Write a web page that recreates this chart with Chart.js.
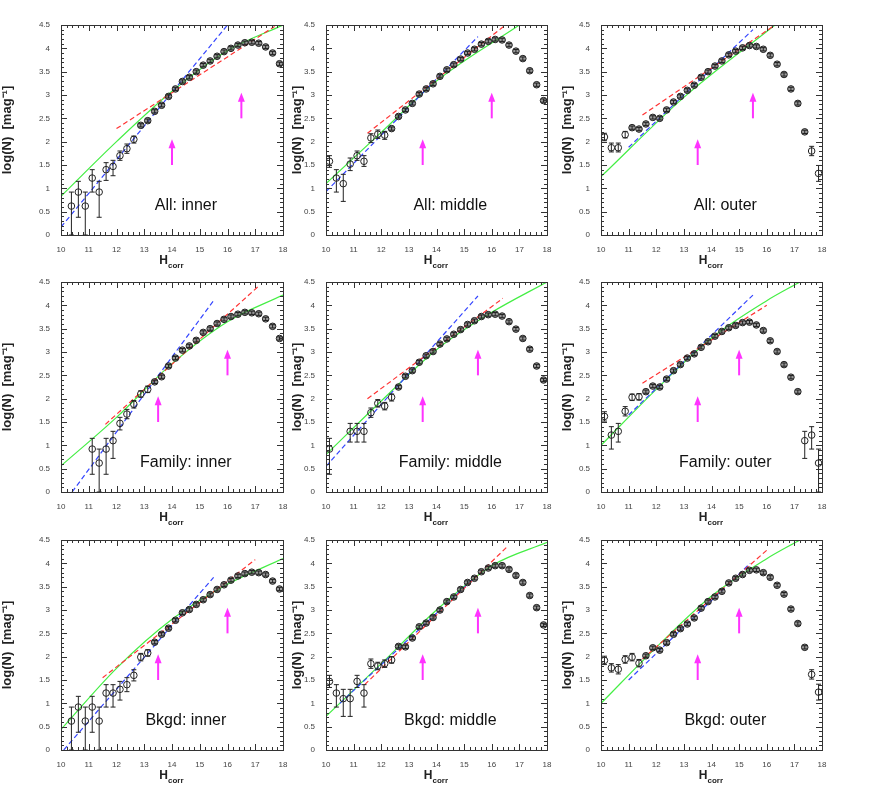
<!DOCTYPE html>
<html>
<head>
<meta charset="utf-8">
<script src="https://cdn.jsdelivr.net/npm/chart.js@4"></script>
<style>
  body { margin: 0; background: #fff; }
  .cell { position: absolute; }
</style>
</head>
<body>
<script>
// H bins (centres)
const hBins = [10.125, 10.375, 10.625, 10.875, 11.125, 11.375, 11.625, 11.875,
  12.125, 12.375, 12.625, 12.875, 13.125, 13.375, 13.625, 13.875,
  14.125, 14.375, 14.625, 14.875, 15.125, 15.375, 15.625, 15.875,
  16.125, 16.375, 16.625, 16.875, 17.125, 17.375, 17.625, 17.875];

const panelLabels = ["All: inner", "All: middle", "All: outer",
  "Family: inner", "Family: middle", "Family: outer",
  "Bkgd: inner", "Bkgd: middle", "Bkgd: outer"];

// log(N) per panel (null = no point)
const allInner = [null, 0.62, 0.92, 0.62, 1.22, 0.92, 1.40, 1.47, 1.70, 1.85, 2.05, 2.35, 2.45, 2.65, 2.78, 2.97,
  3.13, 3.29, 3.38, 3.50, 3.64, 3.73, 3.83, 3.93, 4.00, 4.07, 4.12, 4.13, 4.11, 4.03, 3.90, 3.67];
const allMiddle = [1.58, 1.22, 1.10, 1.52, 1.70, 1.58, 2.08, 2.16, 2.14, 2.28, 2.54, 2.68, 2.82, 3.02, 3.13, 3.24,
  3.40, 3.54, 3.65, 3.77, 3.90, 3.98, 4.09, 4.15, 4.19, 4.18, 4.07, 3.94, 3.78, 3.52, 3.22, 2.88];
const allOuter = [2.10, 1.87, 1.87, 2.15, 2.30, 2.27, 2.38, 2.52, 2.50, 2.68, 2.85, 2.97, 3.10, 3.21, 3.38, 3.50,
  3.62, 3.73, 3.86, 3.94, 4.01, 4.06, 4.04, 3.98, 3.85, 3.66, 3.44, 3.13, 2.82, 2.21, 1.80, 1.32];
const famInner = [null, null, null, null, 0.92, 0.62, 0.92, 1.10, 1.47, 1.67, 1.88, 2.10, 2.20, 2.36, 2.47, 2.70,
  2.87, 3.04, 3.13, 3.25, 3.42, 3.50, 3.61, 3.70, 3.76, 3.81, 3.85, 3.84, 3.82, 3.71, 3.55, 3.29];
const famMiddle = [0.92, null, null, 1.30, 1.30, 1.30, 1.70, 1.90, 1.84, 2.03, 2.25, 2.48, 2.60, 2.78, 2.92, 3.01,
  3.17, 3.28, 3.38, 3.48, 3.59, 3.67, 3.76, 3.80, 3.81, 3.77, 3.65, 3.49, 3.29, 3.06, 2.70, 2.40];
const famOuter = [1.62, 1.22, 1.30, 1.73, 2.03, 2.04, 2.15, 2.27, 2.25, 2.42, 2.60, 2.73, 2.87, 2.96, 3.10, 3.22,
  3.34, 3.44, 3.52, 3.57, 3.63, 3.64, 3.58, 3.46, 3.24, 3.01, 2.73, 2.46, 2.15, 1.10, 1.22, 0.62];
const bkgInner = [null, 0.62, 0.92, 0.62, 0.92, 0.62, 1.22, 1.22, 1.30, 1.40, 1.60, 1.99, 2.08, 2.31, 2.48, 2.61,
  2.78, 2.94, 3.01, 3.12, 3.22, 3.33, 3.44, 3.54, 3.64, 3.73, 3.78, 3.81, 3.80, 3.76, 3.62, 3.45];
const bkgMiddle = [1.47, 1.22, 1.10, 1.10, 1.47, 1.22, 1.85, 1.80, 1.85, 1.93, 2.22, 2.21, 2.40, 2.64, 2.72, 2.84,
  3.00, 3.18, 3.28, 3.44, 3.59, 3.68, 3.82, 3.90, 3.95, 3.95, 3.87, 3.74, 3.59, 3.31, 3.05, 2.68];
const bkgOuter = [1.92, 1.76, 1.73, 1.94, 1.99, 1.86, 2.02, 2.19, 2.14, 2.30, 2.48, 2.60, 2.70, 2.83, 3.04, 3.18,
  3.28, 3.40, 3.58, 3.68, 3.76, 3.85, 3.86, 3.80, 3.70, 3.53, 3.34, 3.02, 2.71, 2.20, 1.62, 1.24];

// error bars: bin index -> [low, high]
const allInnerErr = {1: [0, 0.92], 2: [0.38, 1.15], 3: [0, 0.92], 4: [0.92, 1.40], 5: [0.38, 1.15], 6: [1.17, 1.55], 7: [1.27, 1.60], 8: [1.60, 1.80], 9: [1.75, 1.95], 10: [1.97, 2.12]};
const allMiddleErr = {0: [1.45, 1.70], 1: [0.92, 1.40], 2: [0.72, 1.30], 3: [1.38, 1.65], 4: [1.60, 1.80], 5: [1.47, 1.70], 6: [1.98, 2.17], 7: [2.07, 2.25], 8: [2.05, 2.22]};
const allOuterErr = {0: [2.02, 2.18], 1: [1.78, 1.97], 2: [1.78, 1.97], 3: [2.08, 2.22], 30: [1.70, 1.90], 31: [1.15, 1.49]};
const famInnerErr = {4: [0.38, 1.15], 5: [0, 0.92], 6: [0.38, 1.15], 7: [0.72, 1.30], 8: [1.33, 1.60], 9: [1.57, 1.77], 10: [1.80, 1.96], 11: [2.03, 2.17], 12: [2.13, 2.27]};
const famMiddleErr = {0: [0.38, 1.15], 3: [1.07, 1.47], 4: [1.07, 1.47], 5: [1.07, 1.47], 6: [1.60, 1.80], 7: [1.82, 1.98], 8: [1.76, 1.92], 9: [1.95, 2.10]};
const famOuterErr = {0: [1.52, 1.72], 1: [0.92, 1.40], 2: [1.07, 1.47], 3: [1.63, 1.83], 4: [1.96, 2.10], 5: [1.97, 2.11], 29: [0.72, 1.30], 30: [0.92, 1.40], 31: [0, 0.92]};
const bkgInnerErr = {1: [0, 0.92], 2: [0.38, 1.15], 3: [0, 0.92], 4: [0.38, 1.15], 5: [0, 0.92], 6: [0.92, 1.40], 7: [0.92, 1.40], 8: [1.07, 1.47], 9: [1.25, 1.55], 10: [1.48, 1.72], 11: [1.91, 2.07], 12: [2.01, 2.15]};
const bkgMiddleErr = {0: [1.34, 1.60], 1: [0.92, 1.40], 2: [0.72, 1.30], 3: [0.72, 1.30], 4: [1.34, 1.60], 5: [0.92, 1.40], 6: [1.75, 1.95], 7: [1.72, 1.88], 8: [1.77, 1.93], 9: [1.86, 2.00]};
const bkgOuterErr = {0: [1.83, 2.01], 1: [1.67, 1.85], 2: [1.63, 1.83], 3: [1.86, 2.02], 4: [1.91, 2.07], 5: [1.78, 1.94], 30: [1.52, 1.72], 31: [1.07, 1.41]};

// fit lines per panel: green (curved), blue dashed, red dashed as [x, y] nodes
const greenFits = [
  [[10, 0.83], [12, 2.0], [14, 3.08], [16, 3.95], [18, 4.5]],
  [[10, 1.1], [12, 2.2], [14, 3.3], [17, 4.5]],
  [[10, 1.25], [13, 2.95], [16.3, 4.5]],
  [[10, 0.56], [12, 1.6], [14, 2.75], [16, 3.65], [18, 4.22]],
  [[10, 0.8], [12, 1.95], [14, 3.05], [16, 3.85], [18, 4.5]],
  [[10, 1.0], [12, 2.2], [14, 3.3], [16, 4.1], [17.2, 4.5]],
  [[10, 0.44], [12, 1.75], [14, 2.8], [16, 3.55], [18, 4.1]],
  [[10, 0.72], [12, 1.85], [14, 3.0], [16, 3.95], [18, 4.45]],
  [[10, 1.0], [12, 2.2], [14, 3.3], [16, 4.1], [17.2, 4.5]]
];
const blueFits = [
  [[10, 0.17], [16, 4.5]], [[10, 0.93], [15.5, 4.25]], [[11, 1.88], [15.5, 4.4]],
  [[10.4, 0], [15.5, 4.1]], [[10, 0.55], [15.5, 4.2]], [[11, 1.65], [15.5, 4.22]],
  [[10.1, 0], [15.5, 3.7]], [[10.5, 1.0], [15.3, 3.65]], [[11, 1.5], [15.4, 4.0]]
];
const redFits = [
  [[12, 2.28], [17.7, 4.47]], [[11.5, 2.18], [16.5, 4.5]], [[11.5, 2.57], [16.3, 4.5]],
  [[11.6, 1.45], [17.1, 4.4]], [[11.5, 2.0], [16.4, 4.15]], [[11.5, 2.33], [16, 4.0]],
  [[11.5, 1.55], [17, 4.08]], [[11.4, 1.4], [16.6, 4.38]], [[11.5, 1.95], [16, 4.28]]
];
// magenta arrows: [H position, y from, y to]
const arrows = [
  [[14, 1.5, 2.05], [16.5, 2.5, 3.05]], [[13.5, 1.5, 2.05], [16, 2.5, 3.05]], [[13.5, 1.5, 2.05], [15.5, 2.5, 3.05]],
  [[13.5, 1.5, 2.05], [16, 2.5, 3.05]], [[13.5, 1.5, 2.05], [15.5, 2.5, 3.05]], [[13.5, 1.5, 2.05], [15, 2.5, 3.05]],
  [[13.5, 1.5, 2.05], [16, 2.5, 3.05]], [[13.5, 1.5, 2.05], [15.5, 2.5, 3.05]], [[13.5, 1.5, 2.05], [15, 2.5, 3.05]]
];

const panelValues = [allInner, allMiddle, allOuter, famInner, famMiddle, famOuter, bkgInner, bkgMiddle, bkgOuter];
const panelErrors = [allInnerErr, allMiddleErr, allOuterErr, famInnerErr, famMiddleErr, famOuterErr, bkgInnerErr, bkgMiddleErr, bkgOuterErr];

// page layout
const colLeft = [0, 290, 560], colWidth = [290, 270, 280];
const colAxisW = [61, 36, 41], colRightPad = [7, 13, 18];
const rowTop = [12, 270, 528], rowTopPad = [13, 12, 12];
const cellH = 258, plotH = 210;

const FONT = "Liberation Sans, Arial, sans-serif";

const decorPlugin = {
  id: "decor",
  afterDatasetsDraw(chart, args, opts) {
    const { ctx, chartArea: a, scales: { x, y } } = chart;
    ctx.save();
    // error bars
    ctx.strokeStyle = "#222";
    ctx.lineWidth = 1;
    opts.values.forEach((v, i) => {
      if (v === null) return;
      const e = opts.errors[i] || [v - 0.035, v + 0.035];
      const px = x.getPixelForValue(hBins[i]);
      const y0 = Math.min(y.getPixelForValue(e[0]), a.bottom), y1 = y.getPixelForValue(e[1]);
      ctx.beginPath();
      ctx.moveTo(px, y0); ctx.lineTo(px, y1);
      ctx.moveTo(px - 2.5, y0); ctx.lineTo(px + 2.5, y0);
      ctx.moveTo(px - 2.5, y1); ctx.lineTo(px + 2.5, y1);
      ctx.stroke();
    });
    // arrows
    ctx.strokeStyle = "#ff33ff";
    ctx.fillStyle = "#ff33ff";
    ctx.lineWidth = 2;
    opts.arrows.forEach(([h, lo, hi]) => {
      const px = x.getPixelForValue(h), p0 = y.getPixelForValue(lo), p1 = y.getPixelForValue(hi);
      ctx.beginPath(); ctx.moveTo(px, p0); ctx.lineTo(px, p1 + 6); ctx.stroke();
      ctx.beginPath(); ctx.moveTo(px, p1); ctx.lineTo(px - 3.5, p1 + 9); ctx.lineTo(px + 3.5, p1 + 9); ctx.closePath(); ctx.fill();
    });
    // inner tick marks on all four sides
    ctx.strokeStyle = "#333";
    ctx.lineWidth = 1;
    ctx.beginPath();
    for (let k = 0; k <= 40; k++) {
      const px = Math.round(x.getPixelForValue(10 + k * 0.2)) + 0.5;
      const len = k % 5 === 0 ? 6 : 3;
      ctx.moveTo(px, a.bottom); ctx.lineTo(px, a.bottom - len);
      ctx.moveTo(px, a.top); ctx.lineTo(px, a.top + len);
    }
    for (let k = 0; k <= 45; k++) {
      const py = Math.round(y.getPixelForValue(k * 0.1)) + 0.5;
      const len = k % 5 === 0 ? 6 : 3;
      ctx.moveTo(a.left, py); ctx.lineTo(a.left + len, py);
      ctx.moveTo(a.right, py); ctx.lineTo(a.right - len, py);
    }
    ctx.stroke();
    ctx.strokeRect(a.left + 0.5, a.top + 0.5, a.right - a.left, a.bottom - a.top);
    // panel label
    ctx.fillStyle = "#111";
    ctx.font = "16px " + FONT;
    ctx.textAlign = "center";
    ctx.textBaseline = "middle";
    ctx.fillText(opts.label, x.getPixelForValue(14.5), y.getPixelForValue(0.62));
    // x axis title with subscript
    const cx = (a.left + a.right) / 2, ty = a.bottom + 26;
    ctx.font = "bold 12px " + FONT;
    ctx.textAlign = "right";
    ctx.fillStyle = "#222";
    ctx.fillText("H", cx - 4, ty);
    ctx.font = "bold 8px " + FONT;
    ctx.textAlign = "left";
    ctx.fillText("corr", cx - 4, ty + 5);
    ctx.restore();
  }
};

panelValues.forEach((vals, p) => {
  const r = Math.floor(p / 3), c = p % 3;
  const div = document.createElement("div");
  div.className = "cell";
  Object.assign(div.style, { left: colLeft[c] + "px", top: rowTop[r] + "px", width: colWidth[c] + "px", height: cellH + "px" });
  div.innerHTML = "<canvas></canvas>";
  document.body.appendChild(div);
  const toPts = (arr) => arr.map(([hx, hy]) => ({ x: hx, y: hy }));
  const errs = panelErrors[p];
  const pts = vals.map((v, i) => (v === null ? null : { x: hBins[i], y: v })).filter(Boolean);
  const fills = vals.map((v, i) => (v === null ? null : (errs[i] ? "rgba(255,255,255,0)" : "rgba(70,70,70,0.55)"))).filter((f) => f !== null);

  new Chart(div.querySelector("canvas"), {
    type: "scatter",
    data: {
      datasets: [
        { data: toPts(greenFits[p]), showLine: true, borderColor: "#44ee44", borderWidth: 1.2, pointRadius: 0, cubicInterpolationMode: "monotone", order: 3 },
        { data: toPts(blueFits[p]), showLine: true, borderColor: "#3344ff", borderWidth: 1.2, borderDash: [5, 3], pointRadius: 0, order: 2 },
        { data: toPts(redFits[p]), showLine: true, borderColor: "#ff3333", borderWidth: 1.2, borderDash: [5, 3], pointRadius: 0, order: 1 },
        { data: pts, pointRadius: 3.3, pointBorderColor: "#222", pointBorderWidth: 1, pointBackgroundColor: fills, order: 0 }
      ]
    },
    options: {
      responsive: true,
      maintainAspectRatio: false,
      animation: false,
      events: [],
      clip: true,
      layout: { padding: { top: rowTopPad[r], right: colRightPad[c], left: 0, bottom: 0 } },
      plugins: {
        legend: { display: false },
        tooltip: { enabled: false },
        decor: { values: vals, errors: errs, arrows: arrows[p], label: panelLabels[p] }
      },
      scales: {
        x: {
          type: "linear", min: 10, max: 18,
          afterFit: (s) => { s.height = cellH - rowTopPad[r] - plotH; },
          ticks: { stepSize: 1, color: "#444", font: { family: FONT, size: 8 }, padding: 2 },
          grid: { display: false },
          border: { display: false }
        },
        y: {
          min: 0, max: 4.5,
          afterFit: (s) => { s.width = colAxisW[c]; },
          ticks: { stepSize: 0.5, color: "#444", font: { family: FONT, size: 8 }, padding: 3, callback: (v) => String(v) },
          grid: { display: false },
          border: { display: false },
          title: { display: true, text: "log(N)  [mag\u207B\u00B9]", color: "#222", font: { family: FONT, size: 13, weight: "bold" }, padding: 0 }
        }
      }
    },
    plugins: [decorPlugin]
  });
});
</script>
</body>
</html>
